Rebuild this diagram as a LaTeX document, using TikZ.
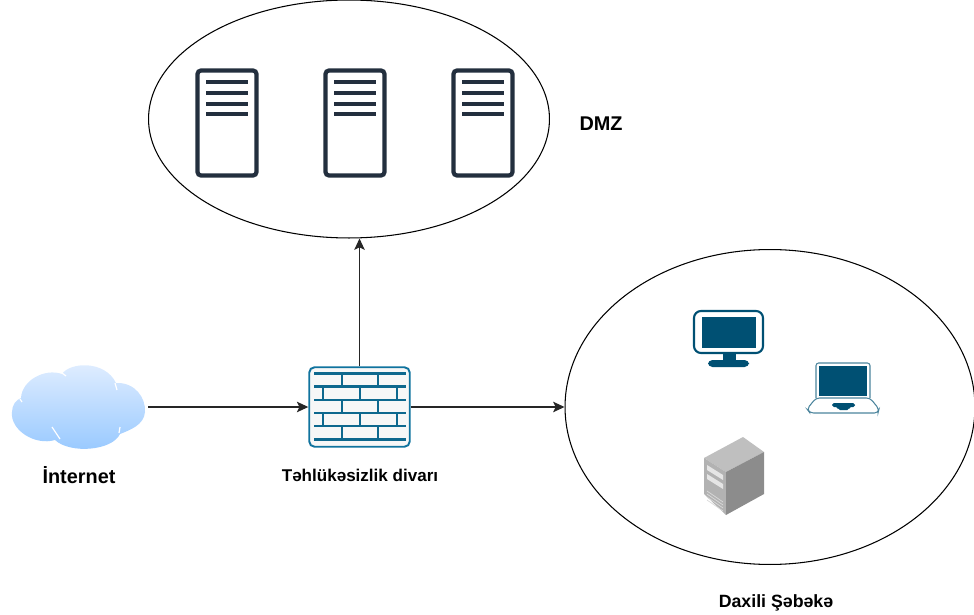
\documentclass[tikz,border=0pt]{standalone}
\usepackage{fontspec}
\setmainfont{Liberation Sans}
\usetikzlibrary{shapes.geometric,arrows.meta}
\definecolor{srvdark}{HTML}{232F3E}
\definecolor{wallblue}{HTML}{10739E}
\definecolor{pcblue}{HTML}{005073}
\definecolor{cloudtop}{HTML}{E2EEFF}
\definecolor{cloudlow}{HTML}{96C8FF}
\tikzset{
  zone/.style={draw, ellipse, inner sep=0pt, line width=0.6pt},
  link/.style={line width=0.65pt, draw=black!85, -{Stealth[length=6.5pt,width=6pt,inset=1.5pt]}},
  lbl/.style={font=\bfseries\fontsize{11.3}{13}\selectfont, inner sep=0pt},
  brick/.style={wallblue!90!black, line width=1.7pt},
  server/.pic={
    \draw[srvdark, line width=2.4pt, rounded corners=2pt, fill=white] (-29.5,-52.5) rectangle (29.5,52.5);
    \foreach \y in {-41,-30,-19,-9}{
      \draw[srvdark, line width=2.2pt] (-21,\y)--(21,\y);
    }
  }
}
\begin{document}
\begin{tikzpicture}[x=0.02cm,y=-0.02cm]
\useasboundingbox (0,0) rectangle (974,615);
% zones
\node[zone, minimum width=8.02cm, minimum height=4.76cm] (dmz) at (349,119) {};
\node[zone, minimum width=8.2cm, minimum height=6.3cm] (lan) at (770,407) {};
% servers
\foreach \i/\x in {1/227,2/355,3/483}{
  \pic (srv\i) at (\x,123) {server};
}
% cloud
\node[minimum width=2.72cm, minimum height=1.6cm, inner sep=0pt] (inet) at (80,407) {};
\shade[top color=cloudtop, bottom color=cloudlow]
  (21,398) .. controls (22,380) and (45,368) .. (62,374)
  .. controls (70,362) and (105,360) .. (116,383)
  .. controls (135,382) and (146,398) .. (145,412)
  .. controls (144,425) and (130,430) .. (120,434)
  .. controls (112,451) and (70,454) .. (55,440)
  .. controls (35,446) and (10,430) .. (12,412)
  .. controls (12,405) and (16,400) .. (21,398) -- cycle;
\draw[white, line width=0.7pt] (52,427)--(60,439) (115,383)--(117,390) (20,399)--(22,402) (120,427)--(119,433) (62,373)--(66,376);
% firewall
\node[draw=wallblue, fill=black!3, line width=1.1pt, rounded corners=3pt, minimum width=2.01cm, minimum height=1.59cm, inner sep=0pt] (fw) at (359.5,407) {};
\foreach \y in {373.5,386.5,400,413,426,439.5}{
  \draw[brick] (314,\y)--(406,\y);
}
\foreach \y in {373.5,400,426}{
  \foreach \x in {342,378}{
    \draw[brick] (\x,\y)--(\x,\y+13.5);
  }
}
\foreach \y in {386.5,413}{
  \foreach \x in {323,360,397}{
    \draw[brick] (\x,\y)--(\x,\y+13.5);
  }
}
% monitor
\draw[pcblue, line width=1.2pt, rounded corners=4pt, fill=white] (694,311) rectangle (763,353);
\fill[pcblue] (702,317) rectangle (756,348);
\fill[pcblue] (723,353) rectangle (736,361);
\fill[pcblue, rounded corners=2.5pt] (708,360) rectangle (749,367);
% laptop
\draw[pcblue!70, line width=0.6pt, rounded corners=1.5pt, fill=white] (816,398)--(816,363)--(870,363)--(870,398);
\fill[pcblue] (819,366) rectangle (867,396);
\draw[pcblue!70, line width=0.6pt, rounded corners=2pt, fill=white] (816,398)--(807,409)--(810,413)--(878,413)--(879,409)--(870,398)--cycle;
\fill[pcblue, rounded corners=1pt] (832,403)--(855,403)--(855,407)--(849,407)--(849,410)--(838,410)--(838,407)--(832,407)--cycle;
% tower
\fill[black!25] (704,458)--(743,437)--(764,452)--(726,472)--cycle;
\fill[black!30] (704,458)--(726,472)--(726,515)--(704,494)--cycle;
\fill[black!45] (726,472)--(764,452)--(764,494)--(726,515)--cycle;
\fill[white!90!black] (707,465)--(723,475)--(723,480)--(707,470)--cycle;
\fill[white!90!black] (707,474)--(723,484)--(723,489)--(707,479)--cycle;
\foreach \d in {0,3,6,9}{
  \draw[white!85!black, line width=0.4pt] (707,491+\d)--(723,502+\d);
}
% labels
\node[lbl] (dmzlbl) at (601,124) {DMZ};
\node[lbl] (inetlbl) at (79,475.5) {İnternet};
\node[lbl, font=\bfseries\fontsize{9.7}{11}\selectfont] (fwlbl) at (360,475) {Təhlükəsizlik divarı};
\node[lbl, font=\bfseries\fontsize{10.1}{12}\selectfont] (lanlbl) at (776,603) {Daxili Şəbəkə};
% links
\draw[link] (inet.east)--(fw.west);
\draw[link] (fw.east)--(lan.west);
\draw[link] (fw.north)--(fw.north |- dmz.south);
\end{tikzpicture}
\end{document}
